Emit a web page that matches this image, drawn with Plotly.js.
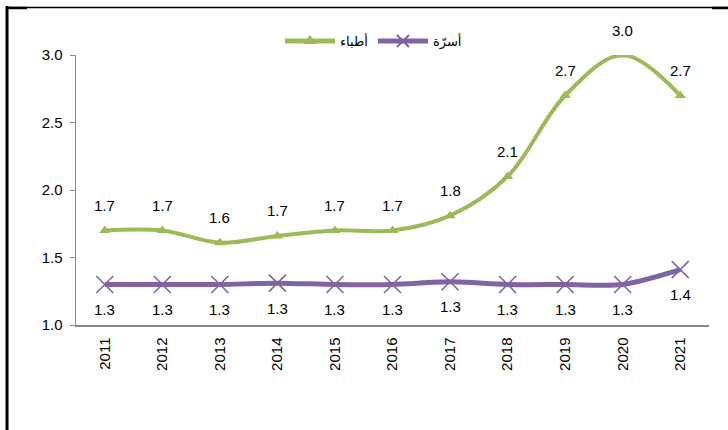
<!DOCTYPE html>
<html><head><meta charset="utf-8">
<script src="https://cdn.plot.ly/plotly-3.0.1.min.js"></script>
<style>html,body{margin:0;padding:0;background:#fff}#c{width:728px;height:430px}</style>
</head><body><div id="c"></div>
<script>
const years = ['2011','2012','2013','2014','2015','2016','2017','2018','2019','2020','2021'];
const doctors = [1.70,1.70,1.61,1.66,1.70,1.70,1.81,2.10,2.70,3.00,2.70];
const beds = [1.30,1.30,1.30,1.31,1.30,1.30,1.32,1.30,1.30,1.30,1.41];
const nameDoctors = 'أطباء';
const nameBeds = 'أسرّة';

const green = '#9BBB59', purple = '#8064A2';
const L = 76, W = 633, T = 55, H = 270;
const px = v => (v - L) / W, py = v => (T + H - v) / H;

const traces = [
  {x: years, y: doctors, name: nameDoctors, type: 'scatter', mode: 'lines+markers',
   line: {color: green, width: 4, shape: 'spline', smoothing: 1},
   marker: {symbol: 'triangle-up', size: 10, color: green}},
  {x: years, y: beds, name: nameBeds, type: 'scatter', mode: 'lines+markers',
   line: {color: purple, width: 5, shape: 'spline', smoothing: 0.8},
   marker: {symbol: 'x-thin-open', size: 17, color: purple, line: {color: purple, width: 1.6}}}
];

const annotations = [];
years.forEach((yr, i) => {
  annotations.push({x: i, y: doctors[i], xref: 'x', yref: 'y', text: doctors[i].toFixed(1),
    showarrow: false, yshift: 25, font: {size: 15, color: '#000'}});
  annotations.push({x: i, y: beds[i], xref: 'x', yref: 'y', text: beds[i].toFixed(1),
    showarrow: false, yshift: -25, font: {size: 15, color: '#000'}});
});

const shapes = [
  {type: 'line', xref: 'paper', yref: 'paper', x0: px(7), x1: px(7), y0: py(6), y1: py(432), line: {color: '#000', width: 3}},
  {type: 'line', xref: 'paper', yref: 'paper', x0: px(6), x1: px(730), y0: py(7.5), y1: py(7.5), line: {color: '#000', width: 1.5}},
  {type: 'line', xref: 'paper', yref: 'paper', x0: px(6), x1: px(27), y0: py(8), y1: py(8), line: {color: '#000', width: 2.5}},
  {type: 'line', xref: 'paper', yref: 'paper', x0: px(712), x1: px(730), y0: py(8), y1: py(8), line: {color: '#000', width: 2.5}}
];

const layout = {
  width: 728, height: 430,
  margin: {l: L, r: 728 - L - W, t: T, b: 430 - T - H},
  paper_bgcolor: '#fff', plot_bgcolor: '#fff',
  font: {family: '"Liberation Sans", Arial, sans-serif', size: 15, color: '#000'},
  showlegend: true,
  legend: {orientation: 'h', x: 0.47, xanchor: 'center', y: py(41), yanchor: 'middle',
    font: {size: 13, family: '"DejaVu Sans", "Liberation Sans", sans-serif'}, itemsizing: 'constant',
    itemwidth: 50, tracegroupgap: 0, bgcolor: 'rgba(0,0,0,0)'},
  xaxis: {type: 'category', range: [-0.5, 10.5], showgrid: false, zeroline: false,
    showline: true, linecolor: '#898989', linewidth: 1.5, ticks: '', tickangle: -90,
    ticklabelstandoff: 5, tickfont: {size: 15, color: '#000'}, fixedrange: true},
  yaxis: {range: [1, 3], dtick: 0.5, tick0: 1, tickformat: '.1f', showgrid: false, zeroline: false,
    showline: true, linecolor: '#898989', linewidth: 1.5, ticks: 'outside', ticklen: 5, tickcolor: '#898989',
    ticklabelstandoff: 4, tickfont: {size: 15, color: '#000'}, fixedrange: true},
  annotations: annotations,
  shapes: shapes
};

Plotly.newPlot('c', traces, layout, {displayModeBar: false, staticPlot: true});
</script></body></html>
